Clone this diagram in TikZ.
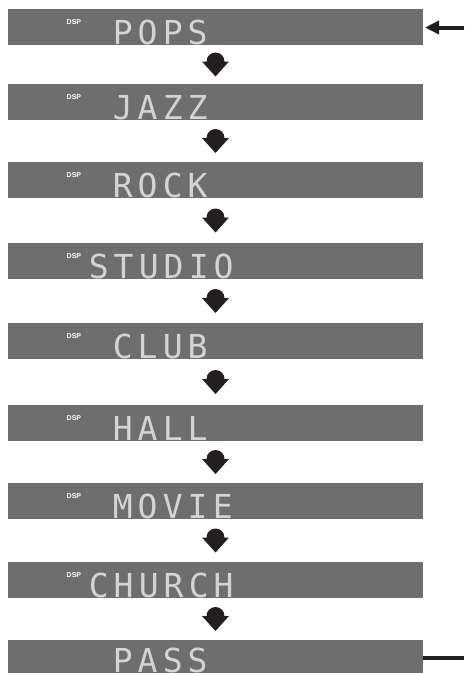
\documentclass[tikz,border=0pt]{standalone}
\usepackage{fontspec}
\usetikzlibrary{arrows.meta,calc}
\newfontfamily\lcdfont{DejaVu Sans Mono}
\newfontfamily\dspfont{Liberation Sans}
\definecolor{barGray}{RGB}{110,110,111}
\definecolor{inkBlack}{RGB}{35,31,32}
\definecolor{lcdWhite}{RGB}{212,212,212}
\makeatletter
\newcommand\lcdtext[1]{\@tfor\lcd@c:=#1\do{\makebox[25pt][c]{\lcd@c}}}
\makeatother
\begin{document}
\begin{tikzpicture}[x=1pt,y=-1pt,
  bar/.style={fill=barGray, draw=none, minimum width=415pt, minimum height=36pt, inner sep=0pt, outer sep=0pt, anchor=north west},
  lcd/.style={font=\lcdfont\fontsize{33}{33}\selectfont, text=lcdWhite, inner sep=0pt, text depth=0pt, anchor=base west},
  dsp/.style={font=\dspfont\bfseries\fontsize{7}{7}\selectfont, text=white, inner sep=0pt, anchor=base west},
  flowarrow/.pic={\fill[inkBlack] (0,-3) circle (9);
                  \fill[inkBlack] (-13.5,-3) -- (13.5,-3) -- (0,12) -- cycle;}
]
\useasboundingbox (0,0) rectangle (464,673);

% display bars
\node[bar] (pops)   at (8,9)   {};
\node[bar] (jazz)   at (8,84)  {};
\node[bar] (rock)   at (8,162) {};
\node[bar] (studio) at (8,243) {};
\node[bar] (club)   at (8,323) {};
\node[bar] (hall)   at (8,405) {};
\node[bar] (movie)  at (8,483) {};
\node[bar] (church) at (8,562) {};
\node[bar, minimum height=33pt] (pass) at (8,640) {};

% DSP indicators
\foreach \b in {pops,jazz,rock,studio,club,hall,movie,church}{
  \node[dsp] (\b D) at ($(\b.north west)+(58.5,15.3)$) {DSP};
}

% display texts
\node[lcd] (popsT)   at ($(pops.north west)+(102,35)$)  {\lcdtext{POPS}};
\node[lcd] (jazzT)   at ($(jazz.north west)+(102,35)$)  {\lcdtext{JAZZ}};
\node[lcd] (rockT)   at ($(rock.north west)+(102,35)$)  {\lcdtext{ROCK}};
\node[lcd] (studioT) at ($(studio.north west)+(78,35)$) {\lcdtext{STUDIO}};
\node[lcd] (clubT)   at ($(club.north west)+(102,35)$)  {\lcdtext{CLUB}};
\node[lcd] (hallT)   at ($(hall.north west)+(102,35)$)  {\lcdtext{HALL}};
\node[lcd] (movieT)  at ($(movie.north west)+(102,35)$) {\lcdtext{MOVIE}};
\node[lcd] (churchT) at ($(church.north west)+(78,35)$) {\lcdtext{CHURCH}};
\node[lcd] (passT)   at ($(pass.north west)+(102,32)$)  {\lcdtext{PASS}};

% down arrows between bars
\foreach \a/\b in {pops/jazz,jazz/rock,rock/studio,studio/club,club/hall,hall/movie,movie/church,church/pass}{
  \coordinate (\a-\b) at ($(\a.south)!0.5!(\b.north)$);
  \pic at (\a-\b) {flowarrow};
}

% entry arrow and exit line
\coordinate (inR) at (464,27.5);
\draw[line width=4pt, inkBlack, -{Triangle[length=14pt,width=13pt]}, shorten >=2pt] (inR) -- (inR -| pops.east);
\coordinate (outR) at (464,658);
\draw[line width=3.5pt, inkBlack] (pass.east |- outR) -- (outR);
\end{tikzpicture}
\end{document}
